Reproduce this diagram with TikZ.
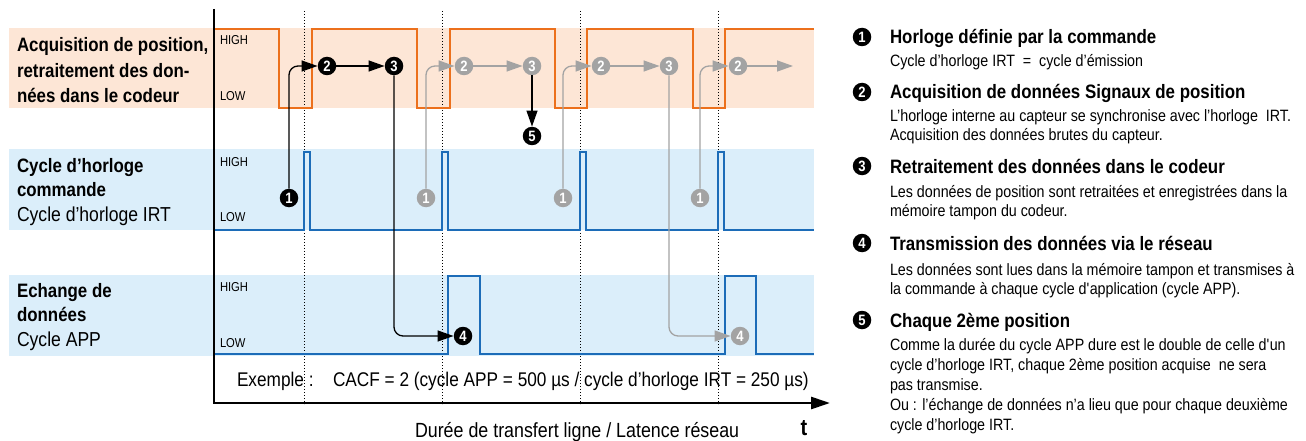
\documentclass[tikz,border=0pt]{standalone}
\usepackage{fontspec}
\setmainfont{Liberation Sans}[FakeStretch=0.87]
\usetikzlibrary{arrows.meta}

\definecolor{waveorange}{RGB}{236,112,28}
\definecolor{bandorange}{RGB}{253,230,214}
\definecolor{waveblue}{RGB}{28,108,184}
\definecolor{bandblue}{RGB}{219,238,250}
\definecolor{markgray}{RGB}{163,163,163}

\newcommand\setfs[1]{\fontsize{#1}{#1}\selectfont}

\tikzset{
  wave/.style={line width=2.8pt, line join=miter},
  orangewave/.style={wave, draw=waveorange},
  bluewave/.style={wave, draw=waveblue},
  syncline/.style={line width=1pt, dash pattern=on 1.3pt off 1.7pt},
  axisline/.style={line width=2.7pt, line join=miter, -{Triangle[length=19pt,width=12pt]}},
  txt/.style={anchor=base west, inner sep=0pt, outer sep=0pt},
  headb/.style={txt, font=\setfs{19.4}\bfseries},
  headr/.style={txt, font=\setfs{20.2}},
  level/.style={txt, font=\setfs{12.9}},
  legtitle/.style={txt, font=\setfs{19.4}\bfseries},
  legtext/.style={txt, font=\setfs{16.4}},
  numblack/.style={circle, fill=black, text=white, inner sep=0pt, minimum size=18.5pt, font=\setfs{15}\bfseries},
  numgray/.style={numblack, fill=markgray},
  conn/.style={line width=1.3pt, rounded corners=9pt, -{Triangle[length=16pt,width=11pt]}},
  conngray/.style={conn, draw=markgray, -{Triangle[length=16pt,width=11pt,fill=markgray]}},
}

\begin{document}
\begin{tikzpicture}[x=1pt, y=-1pt]
\useasboundingbox (0,0) rectangle (1306,441);

% signal bands
\fill[bandorange] (9,28) rectangle (814,108);
\fill[bandblue] (9,149) rectangle (814,230);
\fill[bandblue] (9,275) rectangle (814,356);

% row labels
\node[headb] (la1) at (17,52) {Acquisition de position,};
\node[headb] (la2) at (17,77.5) {retraitement des don-};
\node[headb] (la3) at (17,103) {nées dans le codeur};
\node[headb] (lb1) at (17,172) {Cycle d’horloge};
\node[headb] (lb2) at (17,196.5) {commande};
\node[headr] (lb3) at (17,221) {Cycle d’horloge IRT};
\node[headb] (lc1) at (17,297) {Echange de};
\node[headb] (lc2) at (17,321.5) {données};
\node[headr] (lc3) at (17,346) {Cycle APP};

% HIGH / LOW levels
\node[level] (ha) at (220,45) {HIGH};
\node[level] (wa) at (220,101) {LOW};
\node[level] (hb) at (220,166) {HIGH};
\node[level] (wb) at (220,221) {LOW};
\node[level] (hc) at (220,291) {HIGH};
\node[level] (wc) at (220,347) {LOW};

% clock instants
\foreach \x in {304,442,580,718}
  \draw[syncline] (\x,11) -- (\x,404);

% position acquisition / processing
\draw[orangewave] (214,29) -- (279,29) -- (279,108) -- (312,108) -- (312,29)
  -- (417,29) -- (417,108) -- (450,108) -- (450,29)
  -- (555,29) -- (555,108) -- (587,108) -- (587,29)
  -- (693,29) -- (693,108) -- (725,108) -- (725,29) -- (814,29);

% IRT clock
\draw[bluewave] (214,230) -- (304,230) -- (304,152) -- (310,152) -- (310,230)
  -- (442,230) -- (442,152) -- (448,152) -- (448,230)
  -- (580,230) -- (580,152) -- (586,152) -- (586,230)
  -- (718,230) -- (718,152) -- (724,152) -- (724,230) -- (814,230);

% APP cycle
\draw[bluewave] (214,354) -- (448,354) -- (448,276) -- (480,276) -- (480,354)
  -- (725,354) -- (725,276) -- (756,276) -- (756,354) -- (814,354);

% time axis
\draw[axisline] (214,9) -- (214,403) -- (830,403);

\node[txt, font=\setfs{19.8}] (ex1) at (237,386.7) {Exemple :};
\node[txt, font=\setfs{19.8}] (ex2) at (333,386.7) {CACF = 2 (cycle APP = 500 µs / cycle d’horloge IRT = 250 µs)};
\node[txt, font=\setfs{20.5}] (dur) at (415,437) {Durée de transfert ligne / Latence réseau};
\node[anchor=base, inner sep=0pt, font=\setfs{23}\bfseries] (tlab) at (804,435) {t};

% first cycle
\node[numblack] (c1) at (289,198) {1};
\node[numblack] (c2) at (327,66) {2};
\node[numblack] (c3) at (394,66) {3};
\node[numblack] (c4) at (463,336) {4};
\draw[conn] (c1) |- (c2);
\draw[conn] (c2) -- (c3);
\draw[conn] (c3) |- (c4);

% second cycle
\node[numgray] (g1a) at (426,198) {1};
\node[numgray] (g2a) at (464,66) {2};
\node[numgray] (g3a) at (532,66) {3};
\node[numblack] (c5) at (532,136) {5};
\draw[conngray] (g1a) |- (g2a);
\draw[conngray] (g2a) -- (g3a);
\draw[conn] (g3a) -- (c5);

% third cycle
\node[numgray] (g1b) at (563,198) {1};
\node[numgray] (g2b) at (601,66) {2};
\node[numgray] (g3b) at (669,66) {3};
\node[numgray] (g4b) at (740,336) {4};
\draw[conngray] (g1b) |- (g2b);
\draw[conngray] (g2b) -- (g3b);
\draw[conngray] (g3b) |- (g4b);

% fourth cycle
\node[numgray] (g1c) at (700,198) {1};
\node[numgray] (g2c) at (738,66) {2};
\coordinate (g3c) at (793,66);
\draw[conngray] (g1c) |- (g2c);
\draw[conngray] (g2c) -- (g3c);

% legend
\node[numblack] (k1) at (862,37) {1};
\node[legtitle] (t1) at (890,44) {Horloge définie par la commande};
\node[legtext] (s11) at (890,67) {Cycle d’horloge IRT~~=~~cycle d’émission};

\node[numblack] (k2) at (862,92) {2};
\node[legtitle] (t2) at (890,99) {Acquisition de données Signaux de position};
\node[legtext] (s21) at (890,122) {L’horloge interne au capteur se synchronise avec l’horloge~~IRT.};
\node[legtext] (s22) at (890,141) {Acquisition des données brutes du capteur.};

\node[numblack] (k3) at (862,166) {3};
\node[legtitle] (t3) at (890,173) {Retraitement des données dans le codeur};
\node[legtext] (s31) at (890,197) {Les données de position sont retraitées et enregistrées dans la};
\node[legtext] (s32) at (890,216) {mémoire tampon du codeur.};

\node[numblack] (k4) at (862,243) {4};
\node[legtitle] (t4) at (890,250) {Transmission des données via le réseau};
\node[legtext] (s41) at (890,275) {Les données sont lues dans la mémoire tampon et transmises à};
\node[legtext] (s42) at (890,294) {la commande à chaque cycle d\textquotesingle application (cycle APP).};

\node[numblack] (k5) at (862,320) {5};
\node[legtitle] (t5) at (890,327) {Chaque 2ème position};
\node[legtext] (s51) at (890,350) {Comme la durée du cycle APP dure est le double de celle d\textquotesingle un};
\node[legtext] (s52) at (890,370) {cycle d’horloge IRT, chaque 2ème position acquise~~ne sera};
\node[legtext] (s53) at (890,390) {pas transmise.};
\node[legtext] (s54) at (890,410) {Ou : l’échange de données n’a lieu que pour chaque deuxième};
\node[legtext] (s55) at (890,430) {cycle d’horloge IRT.};
\end{tikzpicture}
\end{document}
